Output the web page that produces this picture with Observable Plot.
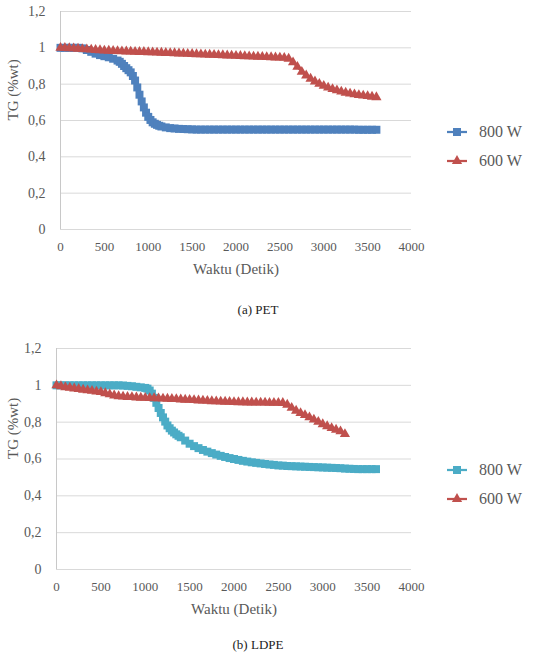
<!DOCTYPE html>
<html>
<head>
<meta charset="utf-8">
<script src="https://cdn.jsdelivr.net/npm/d3@7"></script>
<script src="https://cdn.jsdelivr.net/npm/@observablehq/plot@0.6"></script>
<style>
  html, body { margin: 0; padding: 0; background: #fff; }
  #fig { position: relative; width: 533px; height: 654px; overflow: hidden; font-family: "Liberation Serif", "Times New Roman", "DejaVu Serif", serif; }
  .panel { position: absolute; left: 0; }
  .legend-row { position: absolute; display: flex; align-items: center; font-family: "Liberation Serif", "Times New Roman", "DejaVu Serif", serif; font-size: 16px; color: #595959; }
  .legend-row span { margin-left: 12px; }
  .caption { position: absolute; width: 516px; left: 0; text-align: center; font-family: "Liberation Serif", "Times New Roman", "DejaVu Serif", serif; font-size: 13px; color: #222; }
</style>
</head>
<body>
<div id="fig"></div>
<script>
// Thermogravimetric curves: sample mass fraction vs. time at two microwave powers.

// ---- (a) PET ----
const petTime800 = [0,50,100,150,200,250,300,350,400,450,500,550,600,650,675,700,725,750,775,800,825,850,875,900,925,950,975,1000,1025,1050,1075,1100,1125,1150,1200,1250,1300,1350,1400,1450,1500,1550,1600,1650,1700,1750,1800,1850,1900,1950,2000,2050,2100,2150,2200,2250,2300,2350,2400,2450,2500,2550,2600,2650,2700,2750,2800,2850,2900,2950,3000,3050,3100,3150,3200,3250,3300,3350,3400,3450,3500,3550,3600];
const pet800 = [1.000,1.000,1.000,1.000,1.000,0.997,0.988,0.978,0.968,0.960,0.954,0.948,0.940,0.930,0.923,0.912,0.900,0.888,0.877,0.865,0.845,0.820,0.782,0.742,0.705,0.672,0.643,0.620,0.603,0.590,0.582,0.576,0.571,0.567,0.562,0.558,0.556,0.554,0.553,0.552,0.551,0.550,0.550,0.550,0.550,0.550,0.550,0.550,0.550,0.550,0.550,0.550,0.550,0.550,0.550,0.550,0.550,0.550,0.550,0.550,0.550,0.550,0.550,0.550,0.550,0.550,0.550,0.550,0.550,0.550,0.550,0.550,0.550,0.550,0.550,0.550,0.550,0.550,0.549,0.549,0.549,0.549,0.549];

const petTime600 = [0,50,100,150,200,250,300,350,400,450,500,550,600,650,700,750,800,850,900,950,1000,1050,1100,1150,1200,1250,1300,1350,1400,1450,1500,1550,1600,1650,1700,1750,1800,1850,1900,1950,2000,2050,2100,2150,2200,2250,2300,2350,2400,2450,2500,2550,2600,2650,2700,2750,2800,2850,2900,2950,3000,3050,3100,3150,3200,3250,3300,3350,3400,3450,3500,3550,3600];
const pet600 = [1.000,0.999,0.998,0.997,0.995,0.993,0.992,0.990,0.988,0.987,0.985,0.984,0.983,0.982,0.981,0.980,0.979,0.978,0.977,0.977,0.976,0.975,0.974,0.973,0.972,0.971,0.970,0.969,0.968,0.967,0.966,0.965,0.964,0.963,0.962,0.961,0.960,0.959,0.958,0.957,0.956,0.955,0.954,0.953,0.952,0.951,0.950,0.949,0.948,0.947,0.946,0.945,0.940,0.920,0.895,0.868,0.848,0.830,0.815,0.802,0.791,0.781,0.773,0.766,0.759,0.753,0.748,0.744,0.740,0.737,0.734,0.731,0.728];

// ---- (b) LDPE ----
const ldpeTime800 = [0,50,100,150,200,250,300,350,400,450,500,550,600,650,700,750,800,850,900,950,1000,1025,1050,1075,1100,1125,1150,1175,1200,1225,1250,1275,1300,1325,1350,1375,1400,1450,1500,1550,1600,1650,1700,1750,1800,1850,1900,1950,2000,2050,2100,2150,2200,2250,2300,2350,2400,2450,2500,2550,2600,2650,2700,2750,2800,2850,2900,2950,3000,3050,3100,3150,3200,3250,3300,3350,3400,3450,3500,3550,3600];
const ldpe800 = [1.000,1.000,1.000,1.000,1.000,1.000,1.000,1.000,1.000,1.000,1.000,1.000,1.000,1.000,1.000,0.999,0.997,0.995,0.992,0.989,0.986,0.982,0.972,0.955,0.932,0.905,0.877,0.850,0.826,0.803,0.782,0.767,0.754,0.744,0.734,0.726,0.718,0.700,0.683,0.670,0.659,0.649,0.640,0.632,0.624,0.617,0.611,0.605,0.600,0.595,0.590,0.586,0.582,0.579,0.576,0.573,0.570,0.568,0.565,0.564,0.562,0.561,0.560,0.559,0.558,0.557,0.556,0.555,0.554,0.553,0.552,0.551,0.550,0.548,0.547,0.546,0.545,0.545,0.545,0.545,0.545];

const ldpeTime600 = [0,50,100,150,200,250,300,350,400,450,500,550,600,650,700,750,800,850,900,950,1000,1050,1100,1150,1200,1250,1300,1350,1400,1450,1500,1550,1600,1650,1700,1750,1800,1850,1900,1950,2000,2050,2100,2150,2200,2250,2300,2350,2400,2450,2500,2550,2600,2650,2700,2750,2800,2850,2900,2950,3000,3050,3100,3150,3200,3250];
const ldpe600 = [1.000,0.995,0.990,0.987,0.983,0.980,0.976,0.973,0.970,0.966,0.963,0.957,0.951,0.945,0.941,0.939,0.937,0.936,0.934,0.933,0.932,0.931,0.930,0.929,0.928,0.927,0.926,0.925,0.923,0.922,0.921,0.920,0.918,0.917,0.916,0.914,0.913,0.912,0.911,0.910,0.909,0.908,0.908,0.907,0.907,0.906,0.906,0.906,0.905,0.905,0.905,0.904,0.895,0.878,0.862,0.849,0.838,0.826,0.814,0.802,0.789,0.778,0.768,0.759,0.750,0.735];

const seriesNames = ["800 W", "600 W"];
const xTicks = [0, 500, 1000, 1500, 2000, 2500, 3000, 3500, 4000];
const yTicks = [0, 0.2, 0.4, 0.6, 0.8, 1, 1.2];
const xLabel = "Waktu (Detik)";
const yLabel = "TG (%wt)";
const captions = ["(a)  PET", "(b) LDPE"];

const rows = (times, values) => times.map((t, i) => ({t, v: values[i]}));

const fig = document.getElementById("fig");
const markerR = {square: 4.5, triangle: 3.8};
const fontStack = "'Liberation Serif', 'Times New Roman', 'DejaVu Serif', serif";

function panel({top, height, marginTop, marginLeft, series, legendY, captionY, caption}) {
  const marks = [
    Plot.gridY(yTicks, {stroke: "#d9d9d9", strokeOpacity: 1}),
    Plot.ruleY([0], {stroke: "#d9d9d9"}),
    Plot.ruleX([0], {stroke: "#c8c8c8"}),
    Plot.axisX({ticks: xTicks, tickSize: 0, tickPadding: 12, fontSize: 13, label: null,
      tickFormat: d => String(d)}),
    Plot.axisY({ticks: yTicks, tickSize: 0, tickPadding: 15, fontSize: 14, label: null,
      tickFormat: d => String(d).replace(".", ",")}),
    Plot.text([xLabel], {frameAnchor: "bottom", dy: 44, fontSize: 15, fill: "#595959"}),
    Plot.text([yLabel], {frameAnchor: "left", rotate: -90, dx: 13 - marginLeft, fontSize: 15, fill: "#595959"})
  ];
  for (const s of series) {
    const data = rows(s.times, s.values);
    marks.push(Plot.line(data, {x: "t", y: "v", stroke: s.color, strokeWidth: 2.25}));
    marks.push(Plot.dot(data, {x: "t", y: "v", symbol: s.symbol, r: markerR[s.symbol], fill: s.color, stroke: "none"}));
  }
  const chart = Plot.plot({
    width: 533,
    height,
    marginTop,
    marginBottom: 61,
    marginLeft,
    marginRight: 122,
    x: {domain: [0, 4000]},
    y: {domain: [0, 1.2]},
    style: {fontFamily: fontStack, color: "#595959", background: "transparent"},
    marks
  });
  const wrap = document.createElement("div");
  wrap.className = "panel";
  wrap.style.top = top + "px";
  wrap.appendChild(chart);
  fig.appendChild(wrap);

  // legend: line + marker swatch, then series name
  series.forEach((s, i) => {
    const row = document.createElement("div");
    row.className = "legend-row";
    row.style.left = "447px";
    row.style.top = (legendY[i] - 9) + "px";
    const sw = d3.create("svg").attr("width", 20).attr("height", 18);
    sw.append("line").attr("x1", 0).attr("x2", 20).attr("y1", 9).attr("y2", 9)
      .attr("stroke", s.color).attr("stroke-width", 2.25);
    const sym = s.symbol === "square" ? d3.symbolSquare : d3.symbolTriangle;
    const r = markerR[s.symbol];
    sw.append("path").attr("d", d3.symbol(sym, Math.PI * r * r)())
      .attr("transform", "translate(10,9)").attr("fill", s.color);
    row.appendChild(sw.node());
    const label = document.createElement("span");
    label.textContent = s.name;
    row.appendChild(label);
    fig.appendChild(row);
  });

  const cap = document.createElement("div");
  cap.className = "caption";
  cap.style.top = (captionY - 8) + "px";
  cap.textContent = caption;
  fig.appendChild(cap);
}

panel({
  top: 0, height: 290, marginTop: 11, marginLeft: 60,
  series: [
    {name: seriesNames[0], times: petTime800, values: pet800, color: "#4f81bd", symbol: "square"},
    {name: seriesNames[1], times: petTime600, values: pet600, color: "#c0504d", symbol: "triangle"}
  ],
  legendY: [132, 161], captionY: 310, caption: captions[0]
});

panel({
  top: 330, height: 300, marginTop: 18, marginLeft: 56,
  series: [
    {name: seriesNames[0], times: ldpeTime800, values: ldpe800, color: "#4bacc6", symbol: "square"},
    {name: seriesNames[1], times: ldpeTime600, values: ldpe600, color: "#c0504d", symbol: "triangle"}
  ],
  legendY: [470, 499], captionY: 645, caption: captions[1]
});
</script>
</body>
</html>
